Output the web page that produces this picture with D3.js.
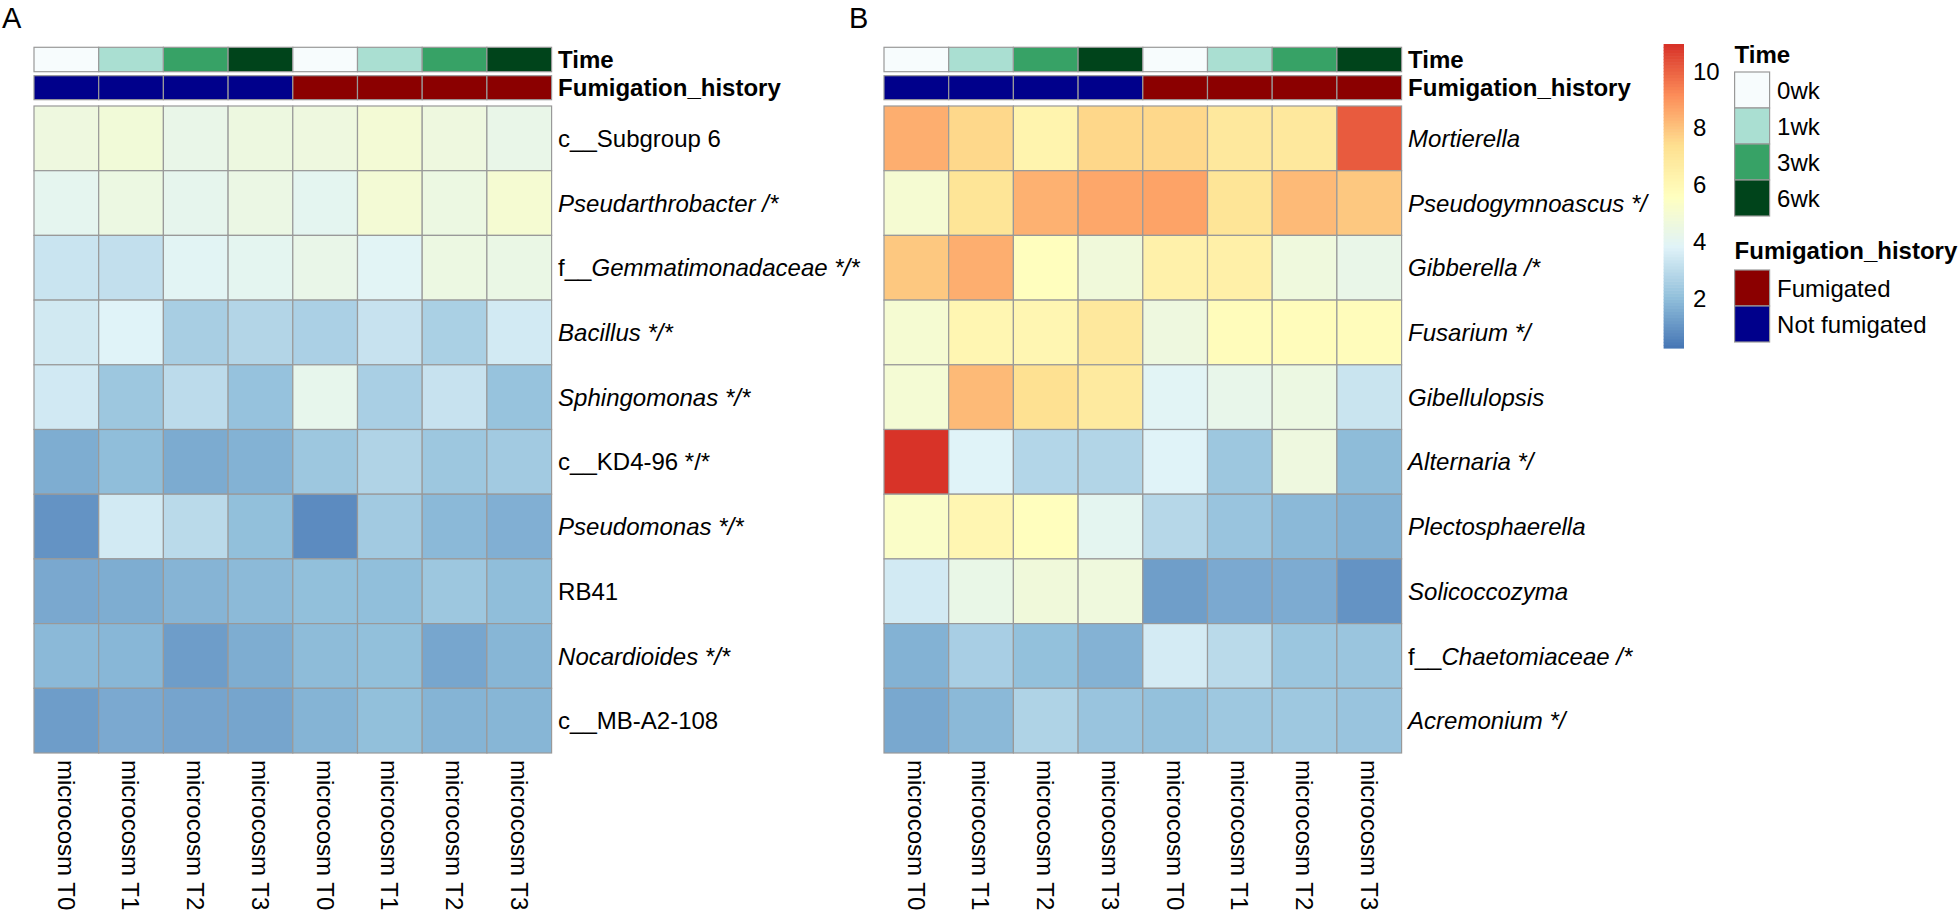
<!DOCTYPE html>
<html>
<head>
<meta charset="utf-8">
<script src="https://cdn.jsdelivr.net/npm/d3@7"></script>
<style>
  html, body { margin: 0; padding: 0; background: #fff; }
  svg { display: block; font-family: "Liberation Sans", Arial, sans-serif; }
</style>
</head>
<body>
<svg id="chart" width="1960" height="914"></svg>
<script>
// ---------------- DATA ----------------
const columnLabels = ["microcosm T0","microcosm T1","microcosm T2","microcosm T3",
                      "microcosm T0","microcosm T1","microcosm T2","microcosm T3"];
const timeAnno = ["0wk","1wk","3wk","6wk","0wk","1wk","3wk","6wk"];
const fumAnno = ["Not fumigated","Not fumigated","Not fumigated","Not fumigated",
                 "Fumigated","Fumigated","Fumigated","Fumigated"];

const timeLevels = ["0wk","1wk","3wk","6wk"];
const timeColors = ["#F7FCFD","#AADFD2","#37A266","#00441B"];
const fumLevels = ["Fumigated","Not fumigated"];
const fumColors = ["#8B0000","#00008B"];

// Row labels: plain part + italic part
const rowsAPlain  = ["c__Subgroup 6","","f__","","","c__KD4-96 */*","","RB41","","c__MB-A2-108"];
const rowsAItalic = ["","Pseudarthrobacter /*","Gemmatimonadaceae */*","Bacillus */*","Sphingomonas */*","","Pseudomonas */*","","Nocardioides */*",""];

const rowsBPlain  = ["","","","","","","","","f__",""];
const rowsBItalic = ["Mortierella","Pseudogymnoascus */","Gibberella /*","Fusarium */","Gibellulopsis",
                     "Alternaria */","Plectosphaerella","Solicoccozyma","Chaetomiaceae /*","Acremonium */"];

const valuesA = [
  [4.60, 4.80, 4.30, 4.55, 4.60, 4.90, 4.60, 4.30],
  [4.10, 4.50, 4.15, 4.45, 4.05, 4.90, 4.50, 5.00],
  [3.29, 3.13, 3.95, 4.05, 4.30, 3.90, 4.50, 4.40],
  [3.47, 3.80, 2.54, 2.79, 2.61, 3.24, 2.60, 3.50],
  [3.48, 2.30, 3.00, 2.13, 4.20, 2.56, 3.24, 2.17],
  [1.58, 2.00, 1.54, 1.70, 2.30, 2.72, 2.30, 2.40],
  [0.97, 3.50, 2.95, 2.05, 0.77, 2.40, 1.88, 1.65],
  [1.48, 1.58, 1.76, 1.90, 2.05, 2.02, 2.30, 2.00],
  [1.88, 1.82, 1.20, 1.58, 1.95, 2.05, 1.42, 1.80],
  [1.20, 1.50, 1.38, 1.40, 1.75, 2.05, 1.75, 1.80]
];

const valuesB = [
  [8.45, 7.55, 6.23, 7.58, 7.55, 6.90, 6.90, 10.13],
  [5.00, 7.10, 8.40, 8.60, 8.70, 7.10, 8.20, 7.90],
  [7.90, 8.45, 5.65, 4.75, 6.40, 6.45, 4.65, 4.30],
  [5.00, 6.10, 6.10, 6.90, 4.60, 5.75, 5.75, 5.75],
  [4.95, 8.20, 7.30, 6.80, 3.90, 4.25, 4.50, 3.28],
  [10.90, 3.80, 2.80, 2.78, 3.80, 2.30, 4.60, 1.95],
  [5.30, 6.10, 5.65, 4.05, 2.85, 2.20, 1.88, 1.70],
  [3.50, 4.35, 4.75, 4.65, 1.22, 1.50, 1.55, 0.97],
  [1.70, 2.55, 2.08, 1.72, 3.55, 2.95, 2.25, 2.22],
  [1.46, 1.88, 2.70, 2.20, 2.10, 2.32, 2.32, 2.20]
];

const colorTicks = [2, 4, 6, 8, 10];
const colorMin = 0.24, colorMax = 10.95;
const paletteStops = ["#4575B4","#91BFDB","#E0F3F8","#FFFFBF","#FEE090","#FC8D59","#D73027"];

// ---------------- SCALES ----------------
const color = d3.scaleLinear()
  .domain(d3.range(paletteStops.length).map(i => colorMin + i * (colorMax - colorMin) / (paletteStops.length - 1)))
  .range(paletteStops)
  .interpolate(d3.interpolateRgb)
  .clamp(true);
const timeColor = d3.scaleOrdinal().domain(timeLevels).range(timeColors);
const fumColor = d3.scaleOrdinal().domain(fumLevels).range(fumColors);

const svg = d3.select("#chart");
const FS = 24;
const BORDER = "#999999";

const heatTop = 106, heatBottom = 753;
const timeY0 = 47.3, timeY1 = 71.7, fumY0 = 75.7, fumY1 = 99.7;

function drawPanel(x0, x1, plain, ital, values, letter, letterX) {
  const g = svg.append("g");
  const x = d3.scaleBand().domain(d3.range(columnLabels.length)).range([x0, x1]);
  const y = d3.scaleBand().domain(d3.range(values.length)).range([heatTop, heatBottom]);

  // annotation bars
  g.selectAll("rect.time").data(timeAnno).join("rect")
    .attr("x", (d, i) => x(i)).attr("y", timeY0)
    .attr("width", x.bandwidth()).attr("height", timeY1 - timeY0)
    .attr("fill", d => timeColor(d)).attr("stroke", BORDER).attr("stroke-width", 1.2);
  g.selectAll("rect.fum").data(fumAnno).join("rect")
    .attr("x", (d, i) => x(i)).attr("y", fumY0)
    .attr("width", x.bandwidth()).attr("height", fumY1 - fumY0)
    .attr("fill", d => fumColor(d)).attr("stroke", BORDER).attr("stroke-width", 1.2);

  g.append("text").attr("x", x1 + 6.5).attr("y", (timeY0 + timeY1) / 2).attr("dy", "0.36em")
    .attr("font-size", FS).attr("font-weight", "bold").text("Time");
  g.append("text").attr("x", x1 + 6.5).attr("y", (fumY0 + fumY1) / 2).attr("dy", "0.36em")
    .attr("font-size", FS).attr("font-weight", "bold").text("Fumigation_history");

  // cells
  const cells = [];
  values.forEach((row, r) => row.forEach((v, c) => cells.push({r, c, v})));
  g.selectAll("rect.cell").data(cells).join("rect")
    .attr("x", d => x(d.c)).attr("y", d => y(d.r))
    .attr("width", x.bandwidth()).attr("height", y.bandwidth())
    .attr("fill", d => color(d.v)).attr("stroke", BORDER).attr("stroke-width", 1.2);

  // row labels
  const rl = g.selectAll("text.row").data(d3.range(values.length)).join("text")
    .attr("x", x1 + 6.5).attr("y", i => y(i) + y.bandwidth() / 2).attr("dy", "0.36em")
    .attr("font-size", FS);
  rl.append("tspan").text(i => plain[i]);
  rl.append("tspan").attr("font-style", "italic").text(i => ital[i]);

  // column labels
  g.selectAll("text.col").data(columnLabels).join("text")
    .attr("transform", (d, i) => `translate(${x(i) + x.bandwidth() / 2},${heatBottom + 7}) rotate(90)`)
    .attr("dy", "0.36em").attr("font-size", FS).text(d => d);

  // panel letter
  svg.append("text").attr("x", letterX).attr("y", 28).attr("font-size", 29).text(letter);
}

drawPanel(34, 551.6, rowsAPlain, rowsAItalic, valuesA, "A", 2);
drawPanel(884, 1401.6, rowsBPlain, rowsBItalic, valuesB, "B", 849);

// ---------------- LEGENDS ----------------
const cbX = 1663.6, cbW = 20.4, cbTop = 44, cbBottom = 348;
const cbY = d3.scaleLinear().domain([colorMin, colorMax]).range([cbBottom, cbTop]);
const nSteps = 100;
const steps = d3.range(nSteps).map(i => colorMin + (i + 0.5) * (colorMax - colorMin) / nSteps);
svg.append("g").selectAll("rect").data(steps).join("rect")
  .attr("x", cbX).attr("width", cbW)
  .attr("y", d => cbY(d + (colorMax - colorMin) / nSteps / 2))
  .attr("height", (cbBottom - cbTop) / nSteps + 0.6)
  .attr("fill", d => color(d));
svg.append("g").selectAll("text").data(colorTicks).join("text")
  .attr("x", 1693).attr("y", d => cbY(d)).attr("dy", "0.36em")
  .attr("font-size", FS).text(d => d);

// Time legend
const lgX = 1734.6, boxW = 35, boxH = 36;
svg.append("text").attr("x", lgX).attr("y", 63).attr("font-size", FS).attr("font-weight", "bold").text("Time");
const tl = svg.append("g");
tl.selectAll("rect").data(timeLevels).join("rect")
  .attr("x", lgX).attr("y", (d, i) => 72 + i * boxH).attr("width", boxW).attr("height", boxH)
  .attr("fill", d => timeColor(d)).attr("stroke", BORDER).attr("stroke-width", 1.2);
tl.selectAll("text").data(timeLevels).join("text")
  .attr("x", lgX + boxW + 7.5).attr("y", (d, i) => 72 + i * boxH + boxH / 2).attr("dy", "0.36em")
  .attr("font-size", FS).text(d => d);

// Fumigation legend
svg.append("text").attr("x", lgX).attr("y", 259).attr("font-size", FS).attr("font-weight", "bold").text("Fumigation_history");
const fl = svg.append("g");
fl.selectAll("rect").data(fumLevels).join("rect")
  .attr("x", lgX).attr("y", (d, i) => 270 + i * boxH).attr("width", boxW).attr("height", boxH)
  .attr("fill", d => fumColor(d)).attr("stroke", BORDER).attr("stroke-width", 1.2);
fl.selectAll("text").data(fumLevels).join("text")
  .attr("x", lgX + boxW + 7.5).attr("y", (d, i) => 270 + i * boxH + boxH / 2).attr("dy", "0.36em")
  .attr("font-size", FS).text(d => d);
</script>
</body>
</html>
